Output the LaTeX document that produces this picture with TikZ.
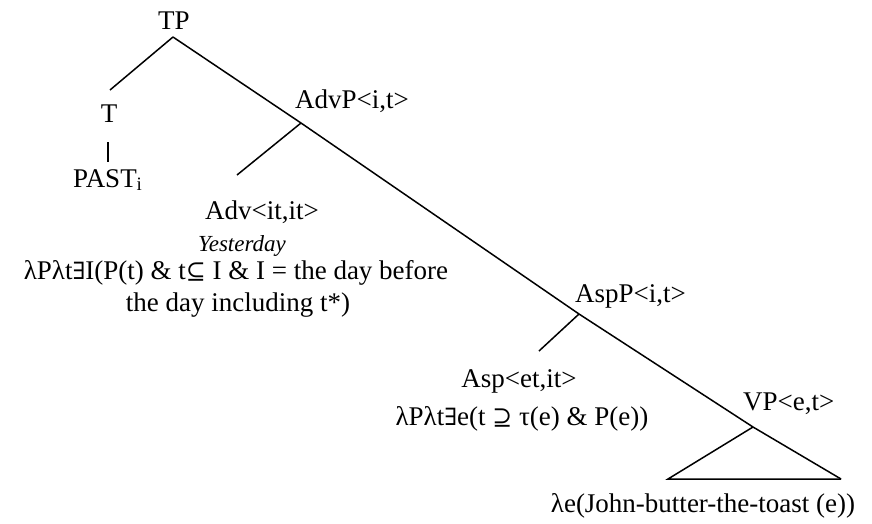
\documentclass[tikz,border=0pt]{standalone}
\usepackage{fontspec}
\setmainfont{Liberation Serif}
\newfontfamily\logicsym{DejaVu Serif}[Scale=0.88]
\usetikzlibrary{positioning}
\tikzset{
    tree_lbl/.style={
        inner sep=0pt, anchor=base, text=black,
        font=\fontsize{27}{32}\selectfont
    },
    tree_lbl_left/.style={
        tree_lbl, anchor=base west
    },
    tree_edge/.style={
        draw=black, line width=1.5pt
    }
}
\newcommand{\exsym}{{\logicsym ∃}}

\begin{document}
\begin{tikzpicture}[x=1pt, y=-1pt]
    \useasboundingbox (0,0) rectangle (872,523);

    \coordinate (tp_j) at (173,37);
    \coordinate (advp_j) at (301,123);
    \coordinate (aspp_j) at (579,314);
    \coordinate (vp_j) at (753,427);
    \coordinate (t_top) at (110,90);
    \coordinate (adv_top) at (237,175);
    \coordinate (asp_top) at (539,351);
    \coordinate (vp_left) at (668,479);
    \coordinate (vp_right) at (841,479);
    \coordinate (bar_top) at (108,142);
    \coordinate (bar_bot) at (108,162);

    \node[tree_lbl] (tp) at (174,29) {TP};
    \node[tree_lbl] (t) at (109,122) {T};
    \node[tree_lbl_left] (past) at (73,187) {PAST\textsubscript{i}};
    \node[tree_lbl_left] (advp) at (295,108) {AdvP<i,t>};
    \node[tree_lbl] (adv) at (262,219) {Adv<it,it>};
    \node[tree_lbl, font=\fontsize{23}{28}\selectfont\itshape] (yesterday) at (242,251) {Yesterday};
    \node[tree_lbl] (adv_sem_a) at (236,279) {λPλt\exsym I(P(t) \& t{\logicsym ⊆} I \& I = the day before};
    \node[tree_lbl] (adv_sem_b) at (238,311) {the day including t*)};
    \node[tree_lbl_left] (aspp) at (575,302) {AspP<i,t>};
    \node[tree_lbl] (asp) at (519,387) {Asp<et,it>};
    \node[tree_lbl] (asp_sem) at (522,425) {λPλt\exsym e(t {\logicsym ⊇} τ(e) \& P(e))};
    \node[tree_lbl_left] (vp) at (743,410) {VP<e,t>};
    \node[tree_lbl] (vp_sem) at (703,512) {λe(John-butter-the-toast (e))};

    \draw[tree_edge] (tp_j) -- (t_top);
    \draw[tree_edge] (bar_top) -- (bar_bot);
    \draw[tree_edge] (tp_j) -- (advp_j) -- (aspp_j) -- (vp_j) -- (vp_right);
    \draw[tree_edge] (advp_j) -- (adv_top);
    \draw[tree_edge] (aspp_j) -- (asp_top);
    \draw[tree_edge] (vp_j) -- (vp_left) -- (vp_right);

\end{tikzpicture}
\end{document}
